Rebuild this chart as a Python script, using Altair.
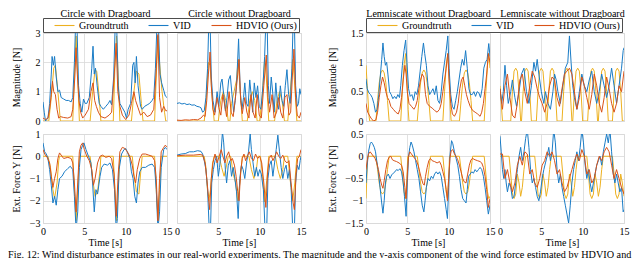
import altair as alt
import pandas as pd

FONT = "Liberation Serif"
SERIES = ["Groundtruth", "VID", "HDVIO (Ours)"]
COLORS = ["#EDB120", "#1a7cc6", "#D95319"]
TITLES = ["Circle with Dragboard", "Circle without Dragboard",
          "Lemniscate without Dragboard", "Lemniscate without Dragboard"]
X_TICKS = [0, 5, 10, 15]
CAPTION = ("Fig. 12: Wind disturbance estimates in our real-world experiments. The magnitude "
           "and the y-axis component of the wind force estimated by HDVIO and")

# ---------- Circle with Dragboard ----------
CW_MAG_GT = [(0,0),(0.7,0),(1.0,0.8),(1.3,1.8),(1.5,1.9),(1.8,1.0),(2.1,0),(3.6,0),(3.8,1.5),(4.0,2.9),(4.2,1.5),(4.4,0),
             (5.7,0),(6.0,1.0),(6.3,1.75),(6.5,1.7),(6.8,0.8),(7.0,0),(8.5,0),(8.7,1.8),(8.9,2.9),(9.1,1.5),(9.3,0),
             (10.7,0),(11.0,1.0),(11.3,1.7),(11.6,1.6),(11.9,0.6),(12.1,0),(13.5,0),(13.7,1.5),(13.9,2.9),(14.1,2.0),
             (14.4,1.0),(14.7,0.3),(14.85,0),(15,0)]
CW_MAG_VID = [(0,0.65),(0.15,0.3),(0.3,0),(0.6,0.1),(0.8,0.6),(1.0,1.6),(1.1,2.2),(1.25,1.9),(1.4,2.2),(1.6,1.5),(1.8,1.0),
              (2.0,1.05),(2.2,0.8),(2.5,0.75),(2.8,0.7),(3.1,0.7),(3.4,0.65),(3.6,0.8),(3.8,2.0),(3.95,3.4),(4.1,3.4),
              (4.3,1.2),(4.5,0.6),(4.7,0.3),(4.9,0.75),(5.1,0.6),(5.3,0.6),(5.6,0.8),(5.9,1.8),(6.05,2.55),(6.2,1.6),
              (6.35,1.8),(6.55,1.2),(6.8,0.6),(7.0,0.5),(7.3,0.4),(7.6,0.5),(7.9,0.6),(8.1,0.7),(8.3,0.55),(8.55,1.5),
              (8.75,3.4),(8.9,3.4),(9.1,1.2),(9.3,0.6),(9.6,0.45),(9.9,0.3),(10.1,0.1),(10.3,0.4),(10.6,0.6),(10.85,1.9),
              (11.0,2.0),(11.15,1.3),(11.3,2.2),(11.5,1.2),(11.8,0.5),(12.0,0.4),(12.3,0.5),(12.6,0.55),(12.9,0.6),
              (13.2,0.7),(13.4,0.8),(13.6,1.8),(13.8,3.4),(13.95,3.4),(14.15,1.6),(14.35,1.3),(14.6,1.05),(14.8,0.85),(15,0.8)]
CW_MAG_HD = [(0,0.1),(0.3,0.05),(0.6,0.1),(0.8,0.4),(1.0,0.9),(1.15,1.35),(1.3,1.0),(1.5,0.9),(1.7,0.4),(1.9,0.1),(2.1,0.15),
             (2.5,0.12),(3.0,0.1),(3.4,0.15),(3.6,0.4),(3.85,1.5),(4.0,2.5),(4.15,1.6),(4.35,0.7),(4.55,0.3),(4.8,0.1),
             (5.1,0.2),(5.5,0.4),(5.8,1.0),(6.05,1.3),(6.25,0.7),(6.45,0.5),(6.7,0.3),(7.0,0.15),(7.5,0.1),(8.0,0.2),
             (8.3,0.3),(8.6,1.5),(8.85,2.65),(9.05,1.0),(9.3,0.5),(9.6,0.2),(10.0,0.05),(10.4,0.2),(10.7,0.6),(11.0,1.0),
             (11.2,0.7),(11.5,0.45),(11.8,0.2),(12.2,0.3),(12.6,0.15),(13.0,0.2),(13.4,0.4),(13.65,1.5),(13.9,2.95),
             (14.1,0.8),(14.35,0.3),(14.6,0.5),(14.85,0.35),(15,0.35)]
CW_FY_GT = [(0,0),(0.6,0),(0.9,-0.5),(1.2,-1.5),(1.4,-1.9),(1.7,-1.2),(1.9,-0.2),(2.0,0),(3.6,0),(3.8,-1.5),(4.0,-2.9),
            (4.2,-1.5),(4.4,0),(5.7,0),(6.0,-1.0),(6.3,-1.8),(6.6,-1.6),(6.9,-0.6),(7.0,0),(8.5,0),(8.7,-1.5),(8.9,-2.9),
            (9.1,-1.5),(9.3,0),(10.8,0),(11.0,-0.8),(11.3,-1.6),(11.6,-1.7),(11.8,-0.8),(12.0,0),(13.5,0),(13.7,-1.5),
            (13.9,-2.9),(14.1,-1.5),(14.3,0),(15,0)]
CW_FY_VID = [(0,0.6),(0.2,0.2),(0.4,0.1),(0.6,-0.1),(0.8,-0.6),(1.0,-1.3),(1.2,-2.1),(1.4,-1.8),(1.6,-2.2),(1.8,-1.5),
             (2.0,-1.0),(2.3,-0.9),(2.6,-0.7),(3.0,-0.55),(3.3,-0.45),(3.6,-0.6),(3.8,-1.8),(4.0,-3.3),(4.2,-2.5),
             (4.4,-0.5),(4.6,0.3),(4.8,0.5),(4.95,0.6),(5.2,0.3),(5.5,0.0),(5.8,-0.3),(6.0,-1.2),(6.2,-2.5),(6.4,-1.5),
             (6.6,-1.7),(6.9,-0.9),(7.1,-0.5),(7.4,-0.35),(7.8,-0.4),(8.1,-0.3),(8.4,-0.6),(8.65,-1.5),(8.85,-3.3),
             (9.0,-2.8),(9.2,-0.6),(9.5,0.1),(9.8,0.3),(10.0,0.35),(10.2,0.2),(10.5,-0.1),(10.7,-0.7),(10.9,-1.0),
             (11.1,-1.8),(11.3,-2.1),(11.5,-1.2),(11.7,-0.7),(12.0,-0.5),(12.4,-0.5),(12.8,-0.4),(13.2,-0.35),
             (13.5,-0.5),(13.7,-1.5),(13.9,-3.3),(14.1,-2.5),(14.3,-0.5),(14.6,0.3),(14.8,0.4),(15,0.3)]
CW_FY_HD = [(0,0.3),(0.2,0.1),(0.5,-0.05),(0.8,-0.3),(1.0,-0.9),(1.2,-1.4),(1.4,-1.0),(1.6,-0.7),(1.8,-0.1),(2.0,0.15),
            (2.2,0.05),(2.5,-0.1),(3.0,-0.05),(3.4,-0.1),(3.6,-0.3),(3.8,-1.2),(4.0,-2.5),(4.2,-1.2),(4.4,0.2),(4.6,0.5),
            (4.8,0.6),(5.0,0.3),(5.3,0.0),(5.6,-0.2),(5.9,-0.6),(6.1,-1.3),(6.3,-1.0),(6.6,-0.3),(6.9,0.0),(7.2,0.05),
            (7.6,-0.05),(8.0,0.0),(8.3,-0.1),(8.6,-0.8),(8.85,-2.7),(9.1,-0.8),(9.3,0.2),(9.6,0.4),(9.9,0.35),(10.2,0.2),
            (10.5,0.0),(10.8,-0.4),(11.0,-0.9),(11.2,-1.2),(11.4,-0.6),(11.7,-0.1),(12.0,0.1),(12.4,0.1),(12.8,0.05),
            (13.2,0.0),(13.5,-0.2),(13.7,-1.0),(13.9,-2.9),(14.1,-1.0),(14.3,0.2),(14.6,0.4),(14.8,0.5),(15,0.4)]

# ---------- Circle without Dragboard ----------
CWO_MAG_GT = [(0,0),(3.3,0),(3.5,0.6),(3.8,2.0),(4.0,1.9),(4.3,0.6),(4.5,0),(5.0,0),(5.3,0.7),(5.6,1.0),(5.9,0.7),(6.2,0),
              (6.4,0),(6.6,0.6),(6.9,1.0),(7.2,1.4),(7.4,2.1),(7.6,1.2),(7.9,0),(8.5,0),(8.8,0.7),(9.1,1.0),(9.4,0.7),
              (9.7,0),(10.0,0),(10.3,0.8),(10.6,2.1),(10.8,1.5),(11.1,0),(11.8,0),(12.1,0.7),(12.4,1.0),(12.7,0.7),
              (13.0,0),(13.4,0),(13.7,1.0),(14.0,2.1),(14.2,1.4),(14.5,0),(15,0)]
CWO_MAG_VID = [(0,0.6),(0.3,0.62),(0.6,0.58),(0.9,0.6),(1.2,0.56),(1.5,0.58),(1.8,0.54),(2.1,0.55),(2.4,0.5),(2.7,0.48),
               (2.9,0.45),(3.1,0.3),(3.3,0.35),(3.5,0.8),(3.7,1.8),(3.85,3.4),(4.0,3.4),(4.15,1.5),(4.35,0.7),(4.6,0.3),
               (4.85,1.0),(5.05,0.5),(5.3,1.3),(5.45,1.43),(5.65,0.9),(5.85,0.35),(6.05,0.8),(6.25,1.4),(6.45,1.55),
               (6.65,0.9),(6.85,0.3),(7.05,0.7),(7.25,1.5),(7.45,2.8),(7.65,1.0),(7.85,0.4),(8.05,0.8),(8.2,1.3),(8.4,0.6),
               (8.6,0.5),(8.8,1.4),(9.0,0.8),(9.15,0.3),(9.35,1.3),(9.55,0.8),(9.75,1.2),(9.95,0.5),(10.15,0.4),(10.4,1.2),
               (10.6,2.2),(10.75,3.4),(10.9,3.4),(11.05,1.2),(11.2,0.6),(11.4,1.5),(11.6,0.9),(11.75,0.3),(11.95,1.3),
               (12.15,0.6),(12.3,0.4),(12.5,1.2),(12.7,0.7),(12.9,0.5),(13.1,1.2),(13.3,1.75),(13.5,0.9),(13.7,0.6),
               (13.9,1.8),(14.05,3.4),(14.2,3.4),(14.35,1.2),(14.55,0.5),(14.7,0.6),(14.85,1.1),(15,0.9)]
CWO_MAG_HD = [(0,0.03),(0.5,0.02),(1.0,0.04),(1.5,0.03),(2.0,0.05),(2.5,0.04),(2.9,0.1),(3.2,0.2),(3.4,0.15),(3.6,0.7),
              (3.8,1.6),(4.0,2.35),(4.15,1.2),(4.35,0.4),(4.55,0.2),(4.85,0.8),(5.1,0.4),(5.3,0.2),(5.55,0.9),(5.8,0.5),
              (6.0,0.15),(6.3,1.0),(6.55,0.3),(6.8,0.15),(7.1,0.9),(7.35,1.6),(7.5,2.1),(7.7,0.7),(7.9,0.25),(8.2,0.8),
              (8.45,0.3),(8.7,0.1),(8.95,0.9),(9.2,0.3),(9.45,0.1),(9.7,0.9),(9.95,0.2),(10.2,0.1),(10.5,1.2),(10.8,2.25),
              (11.0,0.8),(11.2,0.3),(11.5,0.9),(11.75,0.1),(12.05,0.3),(12.3,0.8),(12.55,0.3),(12.8,0.1),(13.05,0.8),
              (13.3,0.9),(13.55,0.2),(13.75,0.3),(13.95,1.5),(14.15,2.45),(14.35,0.8),(14.55,0.2),(14.8,0.1),(15,0.3)]
CWO_FY_GT = [(0,0),(3.3,0),(3.5,-0.5),(3.7,-1.6),(3.85,-2.0),(4.05,-1.5),(4.3,-0.3),(4.5,0),(5.1,0),(5.4,-0.5),(5.7,-0.9),
             (6.0,-0.4),(6.2,0),(6.5,0),(6.8,-0.8),(7.1,-1.2),(7.35,-2.0),(7.6,-1.2),(7.9,0),(8.7,0),(9.0,-0.6),(9.3,-1.0),
             (9.6,-0.6),(9.8,0),(10.1,0),(10.35,-0.9),(10.6,-2.05),(10.85,-1.1),(11.1,0),(11.9,0),(12.2,-0.6),(12.5,-1.0),
             (12.8,-0.6),(13.0,0),(13.4,0),(13.7,-1.1),(14.0,-2.0),(14.25,-1.2),(14.5,0),(15,0)]
CWO_FY_VID = [(0,0.05),(0.5,0.1),(1.0,0.12),(1.5,0.2),(2.0,0.2),(2.5,0.25),(2.9,0.22),(3.1,0.1),(3.3,-0.2),(3.5,-0.6),
              (3.7,-1.5),(3.9,-3.3),(4.05,-3.3),(4.2,-1.2),(4.4,-0.6),(4.6,-0.2),(4.8,0.0),(5.0,-0.9),(5.15,-0.5),
              (5.35,0.3),(5.5,1.1),(5.65,0.6),(5.85,-0.6),(6.0,-1.2),(6.2,-0.4),(6.4,-0.2),(6.6,-0.9),(6.8,-0.5),
              (7.0,-1.0),(7.2,-1.6),(7.4,-2.8),(7.6,-1.0),(7.8,-0.4),(8.0,-0.6),(8.2,-1.0),(8.45,-0.2),(8.65,0.2),
              (8.85,1.0),(9.0,0.3),(9.2,-0.3),(9.4,-0.9),(9.6,-0.5),(9.8,-0.9),(10.0,-0.6),(10.2,-0.8),(10.45,-1.5),
              (10.65,-3.3),(10.85,-3.3),(11.0,-1.0),(11.2,-0.4),(11.4,-0.2),(11.6,-0.9),(11.8,-0.3),(12.0,0.3),
              (12.2,0.95),(12.4,0.2),(12.6,-0.5),(12.8,-1.0),(13.0,-0.6),(13.2,-0.4),(13.4,-1.0),(13.6,-0.6),
              (13.8,-1.4),(14.0,-3.3),(14.2,-3.3),(14.35,-1.2),(14.55,-0.4),(14.75,-0.6),(14.9,-0.2),(15,0.0)]
CWO_FY_HD = [(0,0.02),(1.0,0.05),(2.0,0.05),(2.8,0.08),(3.1,0.05),(3.4,-0.3),(3.6,-1.0),(3.8,-1.8),(3.95,-2.4),(4.15,-1.0),
             (4.35,-0.3),(4.6,0.1),(4.85,-0.3),(5.1,0.0),(5.35,0.3),(5.55,0.0),(5.8,-0.3),(6.0,0.0),(6.25,0.2),(6.5,-0.2),
             (6.7,-0.1),(6.95,-0.4),(7.15,-0.9),(7.35,-1.6),(7.5,-2.0),(7.7,-0.7),(7.9,-0.1),(8.1,0.1),(8.3,-0.2),
             (8.5,0.0),(8.75,0.2),(9.0,-0.1),(9.25,-0.2),(9.5,0.1),(9.75,-0.1),(10.0,0.0),(10.25,-0.3),(10.5,-1.2),
             (10.75,-2.3),(10.95,-0.8),(11.15,-0.1),(11.4,0.05),(11.6,-0.2),(11.85,0.0),(12.05,0.2),(12.3,0.0),
             (12.55,-0.1),(12.8,0.05),(13.05,-0.2),(13.3,-0.3),(13.55,-0.2),(13.8,-1.2),(14.05,-2.1),(14.2,-2.4),
             (14.4,-0.8),(14.6,-0.1),(14.8,0.0),(15,0.3)]

# ---------- Lemniscate without Dragboard (1) ----------
L1_MAG_GT = [(0,0.95),(0.15,0.6),(0.35,0.1),(0.45,0),(1.2,0),(1.4,0.35),(1.6,0.65),(1.8,0.82),(2.0,0.87),(2.2,0.82),
             (2.4,0.65),(2.6,0.35),(2.8,0),(4.2,0),(4.4,0.5),(4.6,0.95),(4.8,1.15),(4.95,0.7),(5.1,0.2),(5.2,0),(6.2,0),
             (6.4,0.35),(6.6,0.65),(6.8,0.82),(7.0,0.87),(7.2,0.82),(7.4,0.65),(7.6,0.35),(7.8,0),(9.3,0),(9.5,0.5),
             (9.7,0.95),(9.9,1.15),(10.05,0.7),(10.2,0.2),(10.3,0),(11.3,0),(11.5,0.35),(11.7,0.65),(11.9,0.82),
             (12.1,0.87),(12.3,0.82),(12.5,0.65),(12.7,0.35),(12.9,0),(14.3,0),(14.5,0.5),(14.7,0.95),(14.85,1.15),(15,0.9)]
L1_MAG_VID = [(0,0.72),(0.15,0.55),(0.35,0.48),(0.55,0.45),(0.75,0.4),(0.95,0.3),(1.15,0.15),(1.35,0.2),(1.55,0.45),
              (1.75,0.8),(1.9,1.05),(2.05,1.33),(2.2,1.1),(2.35,0.95),(2.5,1.0),(2.65,0.8),(2.85,0.5),(3.05,0.45),
              (3.25,0.38),(3.45,0.42),(3.65,0.38),(3.85,0.45),(4.05,0.4),(4.2,0.6),(4.4,0.95),(4.6,1.2),(4.8,1.38),
              (4.95,1.0),(5.15,0.55),(5.35,0.42),(5.55,0.45),(5.75,0.35),(5.95,0.5),(6.15,0.45),(6.35,0.6),(6.55,0.85),
              (6.75,1.1),(6.95,1.33),(7.1,1.15),(7.3,0.95),(7.5,0.6),(7.7,0.45),(7.9,0.5),(8.1,0.55),(8.3,0.45),
              (8.5,0.6),(8.7,0.35),(8.9,0.3),(9.1,0.5),(9.3,0.8),(9.5,1.0),(9.7,1.2),(9.9,1.45),(10.05,0.9),(10.25,0.45),
              (10.45,0.25),(10.65,0.2),(10.85,0.35),(11.05,0.5),(11.25,0.7),(11.45,0.9),(11.65,1.05),(11.85,0.95),
              (12.05,1.2),(12.25,0.9),(12.45,0.55),(12.65,0.45),(12.85,0.45),(13.05,0.5),(13.25,0.42),(13.45,0.5),
              (13.65,0.48),(13.85,0.4),(14.05,0.55),(14.25,0.9),(14.45,1.0),(14.65,1.05),(14.85,1.32),(15,1.1)]
L1_MAG_HD = [(0,0.3),(0.2,0.15),(0.4,0.1),(0.6,0.05),(0.9,0.0),(1.2,0.02),(1.4,0.15),(1.6,0.4),(1.8,0.6),(2.0,0.75),
             (2.2,0.65),(2.4,0.5),(2.6,0.4),(2.8,0.35),(3.0,0.25),(3.3,0.2),(3.6,0.15),(3.9,0.12),(4.1,0.2),(4.3,0.4),
             (4.5,0.7),(4.7,0.95),(4.85,0.8),(5.0,0.5),(5.2,0.3),(5.5,0.25),(5.8,0.2),(6.0,0.25),(6.2,0.35),(6.4,0.55),
             (6.6,0.7),(6.8,0.8),(7.0,0.75),(7.2,0.45),(7.4,0.3),(7.7,0.25),(8.0,0.22),(8.3,0.18),(8.6,0.15),(8.9,0.2),
             (9.1,0.3),(9.3,0.5),(9.5,0.7),(9.7,0.9),(9.9,1.15),(10.05,0.7),(10.25,0.3),(10.45,0.12),(10.7,0.08),
             (10.95,0.15),(11.15,0.3),(11.35,0.55),(11.55,0.7),(11.75,0.75),(11.95,0.6),(12.15,0.45),(12.35,0.35),
             (12.6,0.25),(12.9,0.18),(13.2,0.15),(13.5,0.12),(13.8,0.08),(14.0,0.15),(14.2,0.3),(14.4,0.55),(14.6,0.8),
             (14.8,1.15),(15,1.0)]
L1_FY_GT = [(0,-0.95),(0.1,-0.5),(0.2,0),(1.2,0),(1.4,-0.3),(1.6,-0.6),(1.8,-0.8),(2.0,-0.85),(2.2,-0.8),(2.4,-0.6),
            (2.6,-0.3),(2.8,0),(4.2,0),(4.4,-0.4),(4.6,-0.8),(4.8,-0.95),(4.95,-0.5),(5.05,0),(6.2,0),(6.4,-0.3),
            (6.6,-0.6),(6.8,-0.8),(7.0,-0.85),(7.2,-0.8),(7.4,-0.6),(7.6,-0.3),(7.8,0),(9.3,0),(9.5,-0.4),(9.7,-0.8),
            (9.85,-0.95),(10.0,-0.5),(10.1,0),(11.3,0),(11.5,-0.3),(11.7,-0.6),(11.9,-0.8),(12.1,-0.85),(12.3,-0.8),
            (12.5,-0.6),(12.7,-0.3),(12.9,0),(14.3,0),(14.5,-0.4),(14.7,-0.8),(14.85,-0.95),(15,-0.9)]
L1_FY_VID = [(0,-0.6),(0.15,-0.2),(0.3,0.1),(0.5,0.28),(0.65,0.32),(0.8,0.28),(1.0,0.2),(1.15,0.1),(1.3,-0.1),(1.5,-0.35),
             (1.7,-0.7),(1.9,-1.05),(2.05,-1.28),(2.2,-1.0),(2.35,-0.6),(2.5,-0.45),(2.7,-0.4),(2.9,-0.5),(3.1,-0.42),
             (3.3,-0.38),(3.5,-0.35),(3.7,-0.3),(3.9,-0.32),(4.1,-0.28),(4.3,-0.35),(4.5,-0.6),(4.65,-0.9),(4.85,-1.35),
             (5.0,-0.6),(5.15,0.0),(5.3,0.2),(5.45,0.32),(5.6,0.25),(5.8,0.1),(6.0,-0.1),(6.2,-0.3),(6.4,-0.5),(6.6,-0.8),
             (6.8,-1.1),(7.0,-1.25),(7.15,-1.0),(7.3,-0.7),(7.5,-0.5),(7.7,-0.55),(7.9,-0.45),(8.1,-0.5),(8.3,-0.4),
             (8.5,-0.35),(8.7,-0.4),(8.9,-0.35),(9.1,-0.45),(9.3,-0.7),(9.5,-0.95),(9.7,-1.2),(9.85,-1.4),(10.0,-0.7),
             (10.15,0.0),(10.35,0.35),(10.5,0.28),(10.7,0.1),(10.9,-0.05),(11.1,-0.2),(11.3,-0.45),(11.5,-0.75),
             (11.7,-0.95),(11.9,-1.0),(12.1,-1.05),(12.25,-0.75),(12.4,-0.45),(12.6,-0.4),(12.8,-0.35),(13.0,-0.38),
             (13.2,-0.3),(13.4,-0.35),(13.6,-0.3),(13.8,-0.25),(14.0,-0.3),(14.2,-0.45),(14.4,-0.7),(14.6,-1.0),
             (14.8,-1.3),(15,-1.1)]
L1_FY_HD = [(0,-0.3),(0.15,-0.1),(0.3,0.05),(0.5,0.1),(0.7,0.05),(0.9,0.0),(1.1,-0.05),(1.3,-0.15),(1.5,-0.3),(1.7,-0.5),
            (1.9,-0.65),(2.05,-0.72),(2.2,-0.55),(2.4,-0.3),(2.6,-0.1),(2.8,-0.02),(3.0,0.0),(3.2,-0.08),(3.4,-0.1),
            (3.7,-0.12),(4.0,-0.15),(4.3,-0.2),(4.5,-0.35),(4.7,-0.7),(4.85,-0.95),(5.0,-0.4),(5.15,0.0),(5.3,0.1),
            (5.5,0.05),(5.7,0.0),(5.9,-0.05),(6.1,-0.1),(6.3,-0.2),(6.5,-0.35),(6.7,-0.5),(6.9,-0.62),(7.05,-0.65),
            (7.2,-0.45),(7.4,-0.25),(7.6,-0.1),(7.8,-0.05),(8.0,-0.1),(8.3,-0.12),(8.6,-0.15),(8.9,-0.12),(9.1,-0.2),
            (9.3,-0.35),(9.5,-0.5),(9.7,-0.75),(9.85,-1.0),(10.0,-0.5),(10.15,-0.05),(10.3,0.12),(10.5,0.15),(10.7,0.05),
            (10.9,0.0),(11.1,-0.08),(11.3,-0.2),(11.5,-0.35),(11.7,-0.5),(11.9,-0.58),(12.1,-0.6),(12.3,-0.4),
            (12.5,-0.2),(12.7,-0.08),(12.9,-0.05),(13.2,-0.08),(13.5,-0.1),(13.8,-0.12),(14.0,-0.15),(14.2,-0.25),
            (14.4,-0.45),(14.6,-0.75),(14.8,-1.15),(15,-0.95)]

# ---------- Lemniscate without Dragboard (2) ----------
L2_MAG_GT = [(0,0.6),(0.15,0.3),(0.3,0),(1.3,0),(1.5,0.5),(1.7,0.85),(1.9,0.9),(2.1,0.85),(2.3,0.5),(2.5,0),(2.6,0),
             (2.8,0.5),(3.0,0.85),(3.2,0.9),(3.4,0.85),(3.6,0.5),(3.8,0),(4.4,0),(4.6,0.5),(4.8,0.85),(5.0,0.9),
             (5.2,0.85),(5.4,0.5),(5.6,0),(5.7,0),(5.9,0.5),(6.1,0.85),(6.3,0.9),(6.5,0.85),(6.7,0.5),(6.9,0),(7.5,0),
             (7.7,0.5),(7.9,0.85),(8.1,0.9),(8.3,0.85),(8.5,0.5),(8.7,0),(8.8,0),(9.0,0.5),(9.2,0.85),(9.4,0.9),
             (9.6,0.85),(9.8,0.5),(10.0,0),(10.6,0),(10.8,0.5),(11.0,0.85),(11.2,0.9),(11.4,0.85),(11.6,0.5),(11.8,0),
             (11.9,0),(12.1,0.5),(12.3,0.85),(12.5,0.9),(12.7,0.85),(12.9,0.5),(13.1,0),(13.6,0),(13.8,0.5),(14.0,0.85),
             (14.2,0.9),(14.4,0.85),(14.6,0.5),(14.8,0),(15,0)]
L2_MAG_VID = [(0,0.55),(0.2,0.3),(0.4,0.5),(0.6,0.95),(0.8,0.6),(1.0,0.3),(1.3,0.5),(1.5,0.7),(1.8,0.4),(2.0,0.25),
              (2.3,0.5),(2.6,0.8),(2.9,0.9),(3.2,0.5),(3.5,0.3),(3.8,0.6),(4.1,1.0),(4.3,0.85),(4.5,1.05),(4.7,0.8),
              (5.0,0.5),(5.3,0.3),(5.5,0.5),(5.8,0.3),(6.1,0.2),(6.4,0.5),(6.6,0.8),(6.8,0.7),(7.0,0.5),(7.3,0.3),
              (7.6,0.6),(7.9,0.9),(8.2,1.0),(8.4,1.45),(8.6,1.0),(8.8,0.6),(9.0,0.4),(9.3,0.2),(9.6,0.5),(9.9,0.8),
              (10.2,0.6),(10.5,0.5),(10.8,0.7),(11.1,0.85),(11.4,0.5),(11.7,0.3),(12.0,0.5),(12.3,0.8),(12.6,0.6),
              (12.9,0.4),(13.2,0.6),(13.5,0.9),(13.8,0.6),(14.1,0.3),(14.4,0.6),(14.7,0.9),(14.9,1.2),(15,1.25)]
L2_MAG_HD = [(0,0.55),(0.3,0.2),(0.6,0.6),(0.9,0.8),(1.2,0.4),(1.5,0.1),(1.8,0.05),(2.1,0.3),(2.4,0.7),(2.7,0.8),(3.0,0.5),
             (3.3,0.3),(3.6,0.6),(3.9,0.85),(4.2,0.75),(4.5,0.55),(4.8,0.4),(5.1,0.3),(5.4,0.15),(5.7,0.3),(6.0,0.6),
             (6.3,0.75),(6.6,0.7),(6.9,0.4),(7.2,0.25),(7.5,0.55),(7.8,0.8),(8.1,0.85),(8.4,0.9),(8.7,0.8),(9.0,0.5),
             (9.3,0.2),(9.6,0.4),(9.9,0.75),(10.2,0.6),(10.5,0.4),(10.8,0.2),(11.1,0.45),(11.4,0.8),(11.7,0.6),(12.0,0.3),
             (12.3,0.15),(12.6,0.4),(12.9,0.75),(13.2,0.55),(13.5,0.3),(13.8,0.15),(14.1,0.3),(14.4,0.6),(14.7,0.5),(15,0.85)]
L2_FY_GT = [(0,0),(1.1,0),(1.3,-0.4),(1.5,-0.85),(1.7,-0.95),(1.9,-0.85),(2.1,-0.4),(2.3,-0.6),(2.5,-0.9),(2.7,-0.7),
            (2.9,-0.3),(3.1,0),(4.2,0),(4.4,-0.4),(4.6,-0.85),(4.8,-0.95),(5.0,-0.85),(5.2,-0.4),(5.4,-0.6),(5.6,-0.9),
            (5.8,-0.7),(6.0,-0.3),(6.2,0),(7.4,0),(7.6,-0.4),(7.8,-0.85),(8.0,-0.95),(8.2,-0.85),(8.4,-0.4),(8.6,-0.6),
            (8.8,-0.9),(9.0,-0.7),(9.2,-0.3),(9.4,0),(10.5,0),(10.7,-0.4),(10.9,-0.85),(11.1,-0.95),(11.3,-0.85),
            (11.5,-0.4),(11.7,-0.6),(11.9,-0.9),(12.1,-0.7),(12.3,-0.3),(12.5,0),(13.6,0),(13.8,-0.4),(14.0,-0.85),
            (14.2,-0.95),(14.4,-0.85),(14.6,-0.4),(14.8,-0.6),(15,-0.9)]
L2_FY_VID = [(0,0.45),(0.15,0.1),(0.3,-0.3),(0.45,-0.5),(0.6,-0.3),(0.75,-0.6),(0.9,-0.8),(1.1,-0.6),(1.3,-0.7),(1.5,-0.95),
             (1.7,-0.9),(1.9,-0.6),(2.1,-0.3),(2.3,0.0),(2.5,0.2),(2.7,-0.1),(2.9,0.1),(3.1,0.4),(3.3,0.6),(3.5,0.2),
             (3.7,-0.3),(3.9,-0.6),(4.1,-0.5),(4.3,-0.7),(4.5,-0.9),(4.7,-1.0),(4.9,-0.8),(5.1,-0.5),(5.3,-0.3),
             (5.5,-0.15),(5.7,0.0),(5.9,0.2),(6.1,-0.1),(6.3,0.1),(6.5,0.6),(6.7,0.3),(6.9,-0.3),(7.1,-0.6),(7.3,-0.4),
             (7.5,-0.7),(7.7,-0.9),(7.9,-1.1),(8.1,-1.3),(8.3,-1.5),(8.5,-1.1),(8.7,-0.6),(8.9,-0.3),(9.1,-0.1),(9.3,0.1),
             (9.5,-0.1),(9.7,0.2),(9.9,0.6),(10.1,0.3),(10.3,-0.2),(10.5,-0.5),(10.7,-0.3),(10.9,-0.6),(11.1,-0.8),
             (11.3,-0.6),(11.5,-0.4),(11.7,-0.2),(11.9,-0.1),(12.1,0.0),(12.3,-0.2),(12.5,0.1),(12.7,0.3),(12.9,0.5),
             (13.1,0.3),(13.3,0.6),(13.5,0.1),(13.7,-0.4),(13.9,-0.6),(14.1,-0.4),(14.3,-0.6),(14.5,-0.8),(14.7,-0.7),
             (14.9,-1.25),(15,-1.2)]
L2_FY_HD = [(0,0.05),(0.3,0.05),(0.6,-0.5),(0.9,-0.3),(1.2,-0.6),(1.5,-0.8),(1.8,-0.6),(2.1,-0.2),(2.4,0.0),(2.7,-0.2),
            (3.0,0.1),(3.3,0.05),(3.6,-0.4),(3.9,-0.3),(4.2,-0.6),(4.5,-0.7),(4.8,-0.5),(5.1,-0.2),(5.4,-0.1),(5.7,0.1),
            (6.0,0.0),(6.3,0.1),(6.6,-0.1),(6.9,-0.4),(7.2,-0.3),(7.5,-0.6),(7.8,-0.8),(8.1,-0.7),(8.4,-0.5),(8.7,-0.3),
            (9.0,-0.1),(9.3,0.05),(9.6,-0.1),(9.9,0.15),(10.2,0.0),(10.5,-0.4),(10.8,-0.3),(11.1,-0.6),(11.4,-0.5),
            (11.7,-0.2),(12.0,0.0),(12.3,-0.1),(12.6,0.1),(12.9,0.2),(13.2,0.1),(13.5,-0.2),(13.8,-0.5),(14.1,-0.3),
            (14.4,-0.5),(14.7,-0.7),(15,-0.85)]

MAG_TICKS_C = [0, 1, 2, 3]
FY_TICKS_C = [-3, -2, -1, 0, 1]
MAG_TICKS_L = [0, 0.5, 1, 1.5]
FY_TICKS_L = [-1.5, -1, -0.5, 0, 0.5]

AX = dict(labelFont=FONT, titleFont=FONT, labelFontSize=10, titleFontSize=10, labelColor="black",
          titleColor="black", titleFontWeight="normal", gridColor="#d9d9d9", gridWidth=0.8,
          domain=False, ticks=False, tickSize=0, labelFlush=False, labelOverlap=False, grid=True)


def legend_spec():
    return alt.Legend(orient="none", legendX=0, legendY=-116, direction="horizontal",
                      title=" ", titleOrient="left", titleFont=FONT, titleFontSize=10, titlePadding=14,
                      symbolType="M-2,0H2", symbolSize=100, symbolStrokeWidth=1.1,
                      labelFont=FONT, labelFontSize=10, labelColor="black", labelOffset=8.5,
                      labelExpr="datum.label + (datum.label == 'HDVIO (Ours)' ? '\u2003\u2009' : '')",
                      columnPadding=17, padding=1.5, strokeColor="#4d4d4d", fillColor="white")


def panel(gt, vid, hd, dom, ticks, title=None, ytitle=None, ytitle_x=-26.5, xlabels=False,
          legend=False, height=88):
    rows = []
    for name, pairs in zip(SERIES, (gt, vid, hd)):
        for t, v in pairs:
            rows.append({"t": t, "v": v, "s": name})
    df = pd.DataFrame(rows)
    if xlabels:
        xa = alt.Axis(values=X_TICKS, labels=True, title="Time [s]", labelPadding=3, titlePadding=1, **AX)
    else:
        xa = alt.Axis(values=X_TICKS, labels=False, orient="top", title=title, titlePadding=14.5, **AX)
    if ytitle:
        ya = alt.Axis(values=ticks, labels=True, title=ytitle, format="~g", labelPadding=3,
                      titleX=ytitle_x, titleY=height / 2, titleBaseline="middle", titleAngle=270, **AX)
    else:
        ya = alt.Axis(values=ticks, labels=False, title=None, **AX)
    ch = alt.Chart(df).mark_line(strokeWidth=1, clip=True).encode(
        x=alt.X("t:Q", scale=alt.Scale(domain=[0, 15], nice=False, zero=False), axis=xa),
        y=alt.Y("v:Q", scale=alt.Scale(domain=dom, nice=False, zero=False), axis=ya),
        color=alt.Color("s:N", scale=alt.Scale(domain=SERIES, range=COLORS),
                        legend=legend_spec() if legend else None),
    ).properties(width=124, height=height)
    return ch


def spacer(height):
    return alt.Chart(pd.DataFrame({"t": [0]})).mark_point(opacity=0).encode(
        x=alt.X("t:Q", axis=None), y=alt.Y("t:Q", axis=None)
    ).properties(width=44.5, height=height, view=alt.ViewBackground(strokeOpacity=0))


p1m = panel(CW_MAG_GT, CW_MAG_VID, CW_MAG_HD, [0, 3], MAG_TICKS_C, title=TITLES[0], ytitle="Magnitude [N]")
p2m = panel(CWO_MAG_GT, CWO_MAG_VID, CWO_MAG_HD, [0, 3], MAG_TICKS_C, title=TITLES[1])
p1y = panel(CW_FY_GT, CW_FY_VID, CW_FY_HD, [-3, 1], FY_TICKS_C, ytitle="Ext. Force Y [N]", xlabels=True,
            legend=True, height=89)
p2y = panel(CWO_FY_GT, CWO_FY_VID, CWO_FY_HD, [-3, 1], FY_TICKS_C, xlabels=True, height=89)

p3m = panel(L1_MAG_GT, L1_MAG_VID, L1_MAG_HD, [0, 1.5], MAG_TICKS_L, title=TITLES[2], ytitle="Magnitude [N]",
            ytitle_x=-34)
p4m = panel(L2_MAG_GT, L2_MAG_VID, L2_MAG_HD, [0, 1.5], MAG_TICKS_L, title=TITLES[3])
p3y = panel(L1_FY_GT, L1_FY_VID, L1_FY_HD, [-1.5, 0.5], FY_TICKS_L, ytitle="Ext. Force Y [N]", ytitle_x=-34,
            xlabels=True, legend=True, height=89)
p4y = panel(L2_FY_GT, L2_FY_VID, L2_FY_HD, [-1.5, 0.5], FY_TICKS_L, xlabels=True, height=89)

chart = alt.concat(
    p1m, p2m, spacer(88), p3m, p4m,
    p1y, p2y, spacer(89), p3y, p4y,
    columns=5, spacing={"row": 13, "column": 10}, bounds="flush",
).resolve_scale(color="independent", x="independent", y="independent").resolve_legend(
    color="independent"
).properties(
    title=alt.TitleParams(CAPTION, orient="bottom", anchor="start", font=FONT, fontSize=10.2,
                          fontWeight="normal", color="black", offset=2, dx=-3),
    padding=0,
).configure_view(stroke="#4d4d4d", strokeWidth=1).configure(background="white")

chart.save("out.html", embed_options={"renderer": "svg", "actions": False})
